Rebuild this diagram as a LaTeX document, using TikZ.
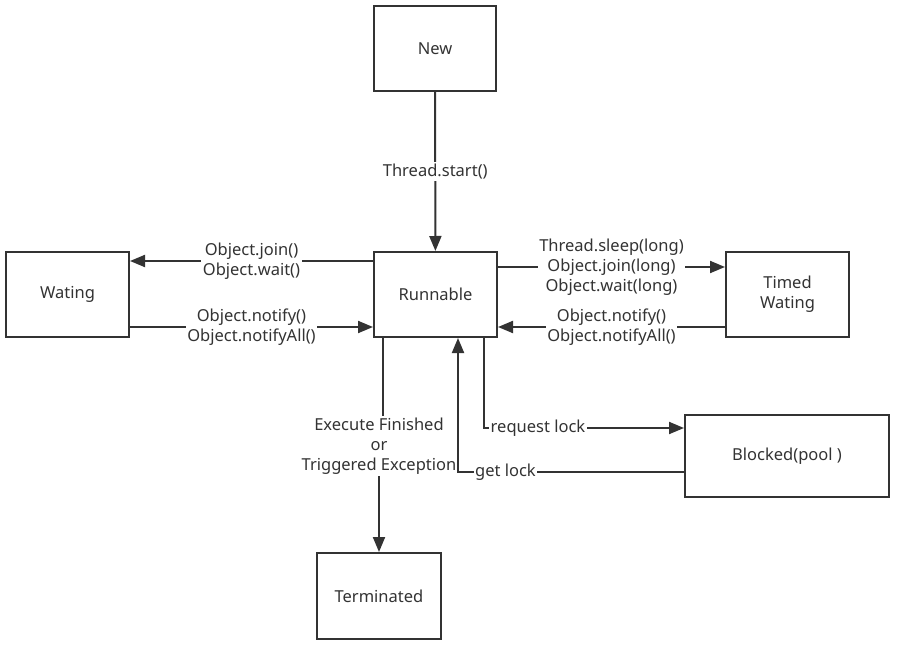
\documentclass[tikz,border=0pt]{standalone}
\usepackage{fontspec}
\setmainfont{Noto Sans}
\usetikzlibrary{arrows.meta}
\definecolor{ink}{HTML}{333333}
\begin{document}
\begin{tikzpicture}[x=1pt,y=-1pt,
  txt/.style={text=ink, font=\fontsize{16.5}{20}\selectfont},
  state/.style={txt, draw=ink, line width=2pt, fill=white, align=center,
    inner sep=0pt},
  edge/.style={draw=ink, line width=2pt, -{Triangle[length=15pt,width=12pt]}},
  lbl/.style={txt, fill=white, align=center, inner sep=1.5pt}
]
\useasboundingbox (0,0) rectangle (904,647);

% states
\node[state, minimum width=122pt, minimum height=85pt] (new)  at (435,48.5)   {New};
\node[state, minimum width=123pt, minimum height=85pt] (run)  at (435.5,294.5) {Runnable};
\node[state, minimum width=123pt, minimum height=85pt] (wait) at (67.5,294.5)  {Wating};
\node[state, minimum width=123pt, minimum height=85pt] (tw)   at (787.5,294.5) {Timed\\Wating};
\node[state, minimum width=204pt, minimum height=82pt] (blk)  at (787,456)     {Blocked(pool )};
\node[state, minimum width=124pt, minimum height=86pt] (ter)  at (379,596)     {Terminated};

% routing points
\coordinate (yw1) at (0,261);
\coordinate (yw2) at (0,327);
\coordinate (yt1) at (0,267);
\coordinate (yt2) at (0,327);
\coordinate (j1) at (383,445);
\coordinate (j2) at (379,445);
\coordinate (rl) at (484,428);
\coordinate (gl) at (458,472);

% transitions
\draw[edge] (new) -- node[lbl] {Thread.start()} (run);

\draw[edge] (run.west |- yw1) -- node[lbl] {Object.join()\\Object.wait()} (wait.east |- yw1);
\draw[edge] (wait.east |- yw2) -- node[lbl] {Object.notify()\\Object.notifyAll()} (run.west |- yw2);

\draw[edge] (run.east |- yt1) -- node[lbl] {Thread.sleep(long)\\Object.join(long)\\Object.wait(long)} (tw.west |- yt1);
\draw[edge] (tw.west |- yt2) -- node[lbl] {Object.notify()\\Object.notifyAll()} (run.east |- yt2);

\draw[edge] (run.south -| j1) -- (j1) -- (j2) -- (ter.north);
\node[lbl] (exc) at (379,446) {Execute Finished\\or\\Triggered Exception};

\draw[edge] (run.south -| rl) -- (rl) -- node[lbl, pos=0.27] {request lock} (blk.west |- rl);
\draw[edge] (blk.west |- gl) -- node[lbl, pos=0.79] {get lock} (gl) -- (run.south -| gl);
\end{tikzpicture}
\end{document}
